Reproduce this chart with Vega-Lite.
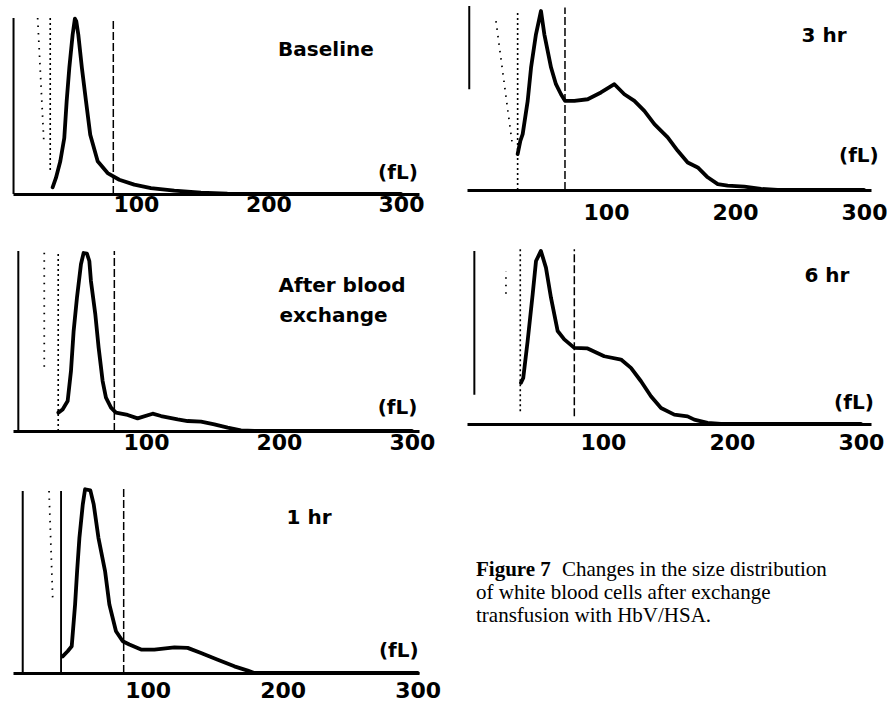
{
  "$schema": "https://vega.github.io/schema/vega-lite/v6.json",
  "background": "white",
  "padding": {"left": 12, "top": 5, "right": 0, "bottom": 0},
  "config": {"view": {"stroke": null}},
  "datasets": {
    "curves": [
      {"p":"b","fL":37.1,"v":3.8},{"p":"b","fL":39.6,"v":9.1},{"p":"b","fL":42.9,"v":18.6},{"p":"b","fL":45.9,"v":31.8},{"p":"b","fL":47.7,"v":52.7},{"p":"b","fL":49.7,"v":71.6},{"p":"b","fL":52.2,"v":90.5},{"p":"b","fL":53.9,"v":99.6},{"p":"b","fL":55,"v":98},{"p":"b","fL":56.5,"v":90.5},{"p":"b","fL":59.2,"v":71.6},{"p":"b","fL":62.3,"v":52.7},{"p":"b","fL":65.5,"v":33.7},{"p":"b","fL":71.1,"v":18.6},{"p":"b","fL":78.6,"v":11.9},{"p":"b","fL":87.4,"v":8.1},{"p":"b","fL":98.7,"v":5.3},{"p":"b","fL":111.3,"v":3.4},{"p":"b","fL":128.9,"v":1.9},{"p":"b","fL":149,"v":0.8},{"p":"b","fL":169,"v":0.2},{"p":"b","fL":200,"v":0},{"p":"b","fL":300,"v":0},
      {"p":"a","fL":34.1,"v":10.3},{"p":"a","fL":37.3,"v":12.1},{"p":"a","fL":41.1,"v":16.8},{"p":"a","fL":43.6,"v":33.6},{"p":"a","fL":45.6,"v":56.1},{"p":"a","fL":48.1,"v":74.8},{"p":"a","fL":51.1,"v":93.5},{"p":"a","fL":53.1,"v":99.8},{"p":"a","fL":55.6,"v":99.4},{"p":"a","fL":57.4,"v":95.3},{"p":"a","fL":58.6,"v":84.1},{"p":"a","fL":61.9,"v":65.4},{"p":"a","fL":64.4,"v":46.7},{"p":"a","fL":67.4,"v":28},{"p":"a","fL":69.9,"v":18.7},{"p":"a","fL":73.7,"v":13.1},{"p":"a","fL":77.4,"v":10.3},{"p":"a","fL":86.2,"v":9},{"p":"a","fL":93.7,"v":7.1},{"p":"a","fL":105,"v":9.7},{"p":"a","fL":111.3,"v":8.4},{"p":"a","fL":123.8,"v":6.5},{"p":"a","fL":131.3,"v":5.6},{"p":"a","fL":141.4,"v":5.2},{"p":"a","fL":151.4,"v":3.7},{"p":"a","fL":161.4,"v":1.9},{"p":"a","fL":171.4,"v":0.4},{"p":"a","fL":181.5,"v":0},{"p":"a","fL":300,"v":0},
      {"p":"h1","fL":37,"v":9},{"p":"h1","fL":40.7,"v":11.8},{"p":"h1","fL":43.7,"v":14.5},{"p":"h1","fL":46.2,"v":37.1},{"p":"h1","fL":47.7,"v":55.2},{"p":"h1","fL":49.4,"v":73.2},{"p":"h1","fL":51.9,"v":91.3},{"p":"h1","fL":53.6,"v":99.5},{"p":"h1","fL":57.5,"v":98.9},{"p":"h1","fL":60,"v":91.3},{"p":"h1","fL":63.5,"v":73.2},{"p":"h1","fL":68.4,"v":55.2},{"p":"h1","fL":71.6,"v":37.1},{"p":"h1","fL":76.5,"v":22.6},{"p":"h1","fL":81.5,"v":17.2},{"p":"h1","fL":86.4,"v":15.4},{"p":"h1","fL":95.1,"v":12.7},{"p":"h1","fL":104.9,"v":12.7},{"p":"h1","fL":119.8,"v":13.9},{"p":"h1","fL":129.6,"v":13.6},{"p":"h1","fL":139.5,"v":10.8},{"p":"h1","fL":151.9,"v":7.2},{"p":"h1","fL":164.2,"v":3.6},{"p":"h1","fL":174.1,"v":1.3},{"p":"h1","fL":179,"v":0},{"p":"h1","fL":300,"v":0},
      {"p":"h3","fL":31.5,"v":20.1},{"p":"h3","fL":33.6,"v":27.5},{"p":"h3","fL":35.4,"v":31.2},{"p":"h3","fL":39.3,"v":49.8},{"p":"h3","fL":41.9,"v":68.4},{"p":"h3","fL":45.7,"v":87},{"p":"h3","fL":49.6,"v":100},{"p":"h3","fL":52.2,"v":87},{"p":"h3","fL":57.4,"v":68.4},{"p":"h3","fL":61.2,"v":59.1},{"p":"h3","fL":65.1,"v":53.5},{"p":"h3","fL":68.2,"v":49.8},{"p":"h3","fL":75.5,"v":49.8},{"p":"h3","fL":85.8,"v":50.7},{"p":"h3","fL":96.1,"v":54.5},{"p":"h3","fL":106.5,"v":59.1},{"p":"h3","fL":114.2,"v":53.5},{"p":"h3","fL":122,"v":49.8},{"p":"h3","fL":129.7,"v":44.2},{"p":"h3","fL":137.5,"v":36.8},{"p":"h3","fL":147.8,"v":29.4},{"p":"h3","fL":155.6,"v":21.9},{"p":"h3","fL":163.3,"v":15.4},{"p":"h3","fL":171.1,"v":12.6},{"p":"h3","fL":178.8,"v":7.1},{"p":"h3","fL":186.6,"v":3.3},{"p":"h3","fL":194.3,"v":2.4},{"p":"h3","fL":207.2,"v":1.9},{"p":"h3","fL":220.2,"v":0.6},{"p":"h3","fL":233.1,"v":0},{"p":"h3","fL":300,"v":0},
      {"p":"h6","fL":36.4,"v":23.7},{"p":"h6","fL":38.2,"v":26.5},{"p":"h6","fL":41.6,"v":47.7},{"p":"h6","fL":45.5,"v":74.6},{"p":"h6","fL":48.1,"v":93.8},{"p":"h6","fL":51.9,"v":99.6},{"p":"h6","fL":55.8,"v":90},{"p":"h6","fL":59.7,"v":72.7},{"p":"h6","fL":64.9,"v":53.5},{"p":"h6","fL":70,"v":48.7},{"p":"h6","fL":77.8,"v":43.8},{"p":"h6","fL":88.1,"v":43.5},{"p":"h6","fL":101,"v":39},{"p":"h6","fL":114,"v":37.1},{"p":"h6","fL":121.7,"v":32.3},{"p":"h6","fL":129.5,"v":24.6},{"p":"h6","fL":137.2,"v":16},{"p":"h6","fL":145,"v":9.2},{"p":"h6","fL":155.3,"v":5.4},{"p":"h6","fL":165.6,"v":4.4},{"p":"h6","fL":170.8,"v":2.5},{"p":"h6","fL":181.1,"v":0.6},{"p":"h6","fL":191.5,"v":0},{"p":"h6","fL":300,"v":0}
    ],
    "marks": [
      {"p":"b","kind":"axis","fL":7.6,"fL2":7.6,"v":0,"v2":100},
      {"p":"b","kind":"dotted","fL":25.8,"fL2":30.6,"v":100,"v2":28},
      {"p":"b","kind":"dashdot","fL":35.3,"fL2":35.3,"v":100,"v2":12},
      {"p":"b","kind":"dashed","fL":82.9,"fL2":82.9,"v":0,"v2":100},
      {"p":"a","kind":"axis","fL":4,"fL2":4,"v":0,"v2":100.9},
      {"p":"a","kind":"dotted","fL":23.5,"fL2":23.5,"v":100,"v2":34},
      {"p":"a","kind":"dashdot","fL":34,"fL2":34,"v":0,"v2":100},
      {"p":"a","kind":"dashed","fL":76.2,"fL2":76.2,"v":0,"v2":100.9},
      {"p":"h1","kind":"axis","fL":7.4,"fL2":7.4,"v":0,"v2":98.6},
      {"p":"h1","kind":"dotted","fL":26.9,"fL2":29.6,"v":98.6,"v2":40.7},
      {"p":"h1","kind":"solid","fL":35.8,"fL2":35.8,"v":0,"v2":98.6},
      {"p":"h1","kind":"dashed","fL":82.2,"fL2":82.2,"v":0,"v2":100},
      {"p":"h3","kind":"axis","fL":-6,"fL2":-6,"v":56.3,"v2":102.8},
      {"p":"h3","kind":"dotted","fL":14.7,"fL2":27.7,"v":94.4,"v2":23.8},
      {"p":"h3","kind":"dashdot","fL":31.5,"fL2":31.5,"v":0,"v2":100},
      {"p":"h3","kind":"dashed","fL":68.2,"fL2":68.2,"v":0,"v2":101.9},
      {"p":"h6","kind":"axis","fL":0.3,"fL2":0.3,"v":16.9,"v2":99.6},
      {"p":"h6","kind":"dotted","fL":24.8,"fL2":24.8,"v":75,"v2":88},
      {"p":"h6","kind":"dashdot","fL":35.9,"fL2":35.9,"v":7.3,"v2":100.6},
      {"p":"h6","kind":"dashed","fL":77.8,"fL2":77.8,"v":4.4,"v2":100.6}
    ],
    "labels": [
      {"p":"b","fL":243.4,"v":81.8,"text":"Baseline"},
      {"p":"b","fL":297.7,"v":12,"text":"(fL)"},
      {"p":"a","fL":247.4,"v":81.3,"text":"After blood"},
      {"p":"a","fL":241,"v":64.5,"text":"exchange"},
      {"p":"a","fL":289.2,"v":13,"text":"(fL)"},
      {"p":"h1","fL":219.5,"v":84.1,"text":"1 hr"},
      {"p":"h1","fL":286,"v":11.8,"text":"(fL)"},
      {"p":"h3","fL":269,"v":86,"text":"3 hr"},
      {"p":"h3","fL":296,"v":19.1,"text":"(fL)"},
      {"p":"h6","fL":273.6,"v":85.2,"text":"6 hr"},
      {"p":"h6","fL":294.6,"v":12.1,"text":"(fL)"}
    ],
    "caption": [
      {"line":1,"part":"head","text":"Figure 7"},
      {"line":1,"part":"body","text":"Changes in the size distribution"},
      {"line":2,"part":"body","text":"of white blood cells after exchange"},
      {"line":3,"part":"body","text":"transfusion with HbV/HSA."}
    ]
  },
  "concat": [
    {
      "width": 406, "height": 188,
      "encoding": {
        "x": {"field":"fL","type":"quantitative","scale":{"domain":[7.2,313.6],"nice":false,"zero":false},
              "axis":{"values":[100,200,300],"title":null,"ticks":false,"grid":false,"domainColor":"black","domainWidth":3,"labelFont":"DejaVu Sans","labelFontWeight":"bold","labelFontSize":22,"labelColor":"black","labelPadding":0,"labelFlush":false,"labelBound":false,"labelOverlap":false}},
        "y": {"field":"v","type":"quantitative","scale":{"domain":[0,106.8],"nice":false},"axis":null}
      },
      "layer": [
        {"data":{"name":"marks"},"transform":[{"filter":"datum.p==='b'"}],"mark":{"type":"rule","color":"black"},
         "encoding":{"x2":{"field":"fL2"},"y2":{"field":"v2"},
           "strokeDash":{"field":"kind","type":"nominal","scale":{"domain":["axis","solid","dotted","dashdot","dashed"],"range":[[1,0],[1,0],[1.5,6],[2,3],[8,3]]},"legend":null},
           "strokeWidth":{"field":"kind","type":"ordinal","scale":{"domain":["axis","solid","dotted","dashdot","dashed"],"range":[2,1.5,1.5,1.5,2]},"legend":null}}},
        {"data":{"name":"curves"},"transform":[{"filter":"datum.p==='b'"}],"mark":{"type":"line","color":"black","strokeWidth":3.8,"strokeJoin":"round","strokeCap":"round"}},
        {"data":{"name":"labels"},"transform":[{"filter":"datum.p==='b'"}],"mark":{"type":"text","font":"DejaVu Sans","fontWeight":"bold","fontSize":20,"color":"black","align":"center","baseline":"middle"},"encoding":{"text":{"field":"text"}}}
      ]
    },
    {
      "width": 404, "height": 184,
      "encoding": {
        "x": {"field":"fL","type":"quantitative","scale":{"domain":[-7.75,305.4],"nice":false,"zero":false},
              "axis":{"values":[100,200,300],"title":null,"ticks":false,"grid":false,"domainColor":"black","domainWidth":3,"labelFont":"DejaVu Sans","labelFontWeight":"bold","labelFontSize":22,"labelColor":"black","labelPadding":12,"labelFlush":false,"labelBound":false,"labelOverlap":false}},
        "y": {"field":"v","type":"quantitative","scale":{"domain":[0,102.8],"nice":false},"axis":null}
      },
      "layer": [
        {"data":{"name":"marks"},"transform":[{"filter":"datum.p==='h3'"}],"mark":{"type":"rule","color":"black"},
         "encoding":{"x2":{"field":"fL2"},"y2":{"field":"v2"},
           "strokeDash":{"field":"kind","type":"nominal","scale":{"domain":["axis","solid","dotted","dashdot","dashed"],"range":[[1,0],[1,0],[1.5,6],[2,3],[8,3]]},"legend":null},
           "strokeWidth":{"field":"kind","type":"ordinal","scale":{"domain":["axis","solid","dotted","dashdot","dashed"],"range":[2,1.5,1.5,1.5,2]},"legend":null}}},
        {"data":{"name":"curves"},"transform":[{"filter":"datum.p==='h3'"}],"mark":{"type":"line","color":"black","strokeWidth":3.8,"strokeJoin":"round","strokeCap":"round"}},
        {"data":{"name":"labels"},"transform":[{"filter":"datum.p==='h3'"}],"mark":{"type":"text","font":"DejaVu Sans","fontWeight":"bold","fontSize":20,"color":"black","align":"center","baseline":"middle"},"encoding":{"text":{"field":"text"}}}
      ]
    },
    {
      "width": 406, "height": 183,
      "encoding": {
        "x": {"field":"fL","type":"quantitative","scale":{"domain":[0,305.3],"nice":false,"zero":false},
              "axis":{"values":[100,200,300],"title":null,"ticks":false,"grid":false,"domainColor":"black","domainWidth":3,"labelFont":"DejaVu Sans","labelFontWeight":"bold","labelFontSize":22,"labelColor":"black","labelPadding":1,"labelFlush":false,"labelBound":false,"labelOverlap":false}},
        "y": {"field":"v","type":"quantitative","scale":{"domain":[0,102.6],"nice":false},"axis":null}
      },
      "layer": [
        {"data":{"name":"marks"},"transform":[{"filter":"datum.p==='a'"}],"mark":{"type":"rule","color":"black"},
         "encoding":{"x2":{"field":"fL2"},"y2":{"field":"v2"},
           "strokeDash":{"field":"kind","type":"nominal","scale":{"domain":["axis","solid","dotted","dashdot","dashed"],"range":[[1,0],[1,0],[1.5,6],[2,3],[8,3]]},"legend":null},
           "strokeWidth":{"field":"kind","type":"ordinal","scale":{"domain":["axis","solid","dotted","dashdot","dashed"],"range":[2,1.5,1.5,1.5,2]},"legend":null}}},
        {"data":{"name":"curves"},"transform":[{"filter":"datum.p==='a'"}],"mark":{"type":"line","color":"black","strokeWidth":3.8,"strokeJoin":"round","strokeCap":"round"}},
        {"data":{"name":"labels"},"transform":[{"filter":"datum.p==='a'"}],"mark":{"type":"text","font":"DejaVu Sans","fontWeight":"bold","fontSize":20,"color":"black","align":"center","baseline":"middle"},"encoding":{"text":{"field":"text"}}}
      ]
    },
    {
      "width": 404, "height": 176,
      "encoding": {
        "x": {"field":"fL","type":"quantitative","scale":{"domain":[-5.4,307.8],"nice":false,"zero":false},
              "axis":{"values":[100,200,300],"title":null,"ticks":false,"grid":false,"domainColor":"black","domainWidth":3,"labelFont":"DejaVu Sans","labelFontWeight":"bold","labelFontSize":22,"labelColor":"black","labelPadding":8,"labelFlush":false,"labelBound":false,"labelOverlap":false}},
        "y": {"field":"v","type":"quantitative","scale":{"domain":[0,101.3],"nice":false},"axis":null}
      },
      "layer": [
        {"data":{"name":"marks"},"transform":[{"filter":"datum.p==='h6'"}],"mark":{"type":"rule","color":"black"},
         "encoding":{"x2":{"field":"fL2"},"y2":{"field":"v2"},
           "strokeDash":{"field":"kind","type":"nominal","scale":{"domain":["axis","solid","dotted","dashdot","dashed"],"range":[[1,0],[1,0],[1.5,6],[2,3],[8,3]]},"legend":null},
           "strokeWidth":{"field":"kind","type":"ordinal","scale":{"domain":["axis","solid","dotted","dashdot","dashed"],"range":[2,1.5,1.5,1.5,2]},"legend":null}}},
        {"data":{"name":"curves"},"transform":[{"filter":"datum.p==='h6'"}],"mark":{"type":"line","color":"black","strokeWidth":3.8,"strokeJoin":"round","strokeCap":"round"}},
        {"data":{"name":"labels"},"transform":[{"filter":"datum.p==='h6'"}],"mark":{"type":"text","font":"DejaVu Sans","fontWeight":"bold","fontSize":20,"color":"black","align":"center","baseline":"middle"},"encoding":{"text":{"field":"text"}}}
      ]
    },
    {
      "width": 406, "height": 188,
      "encoding": {
        "x": {"field":"fL","type":"quantitative","scale":{"domain":[0.2,301],"nice":false,"zero":false},
              "axis":{"values":[100,200,300],"title":null,"ticks":false,"grid":false,"domainColor":"black","domainWidth":3,"labelFont":"DejaVu Sans","labelFontWeight":"bold","labelFontSize":22,"labelColor":"black","labelPadding":7,"labelFlush":false,"labelBound":false,"labelOverlap":false}},
        "y": {"field":"v","type":"quantitative","scale":{"domain":[0,101.8],"nice":false},"axis":null}
      },
      "layer": [
        {"data":{"name":"marks"},"transform":[{"filter":"datum.p==='h1'"}],"mark":{"type":"rule","color":"black"},
         "encoding":{"x2":{"field":"fL2"},"y2":{"field":"v2"},
           "strokeDash":{"field":"kind","type":"nominal","scale":{"domain":["axis","solid","dotted","dashdot","dashed"],"range":[[1,0],[1,0],[1.5,6],[2,3],[8,3]]},"legend":null},
           "strokeWidth":{"field":"kind","type":"ordinal","scale":{"domain":["axis","solid","dotted","dashdot","dashed"],"range":[2,1.5,1.5,1.5,2]},"legend":null}}},
        {"data":{"name":"curves"},"transform":[{"filter":"datum.p==='h1'"}],"mark":{"type":"line","color":"black","strokeWidth":3.8,"strokeJoin":"round","strokeCap":"round"}},
        {"data":{"name":"labels"},"transform":[{"filter":"datum.p==='h1'"}],"mark":{"type":"text","font":"DejaVu Sans","fontWeight":"bold","fontSize":20,"color":"black","align":"center","baseline":"middle"},"encoding":{"text":{"field":"text"}}}
      ]
    },
    {
      "width": 404, "height": 160,
      "data": {"name": "caption"},
      "encoding": {
        "x": {"datum": 0, "type":"quantitative","scale":{"domain":[0,1],"nice":false},"axis":null},
        "y": {"field":"line","type":"quantitative","scale":{"domain":[-2.957,4.0],"nice":false,"zero":false,"reverse":true},"axis":null},
        "text": {"field":"text"}
      },
      "layer": [
        {"transform":[{"filter":"datum.part==='head'"}],"mark":{"type":"text","font":"Liberation Serif","fontWeight":"bold","fontSize":21,"color":"black","align":"left","baseline":"alphabetic","dx":9}},
        {"transform":[{"filter":"datum.part==='body' && datum.line===1"}],"mark":{"type":"text","font":"Liberation Serif","fontSize":21,"color":"black","align":"left","baseline":"alphabetic","dx":95}},
        {"transform":[{"filter":"datum.line>1"}],"mark":{"type":"text","font":"Liberation Serif","fontSize":21,"color":"black","align":"left","baseline":"alphabetic","dx":9}}
      ]
    }
  ],
  "columns": 2,
  "align": "each",
  "bounds": "flush",
  "spacing": {"row": 54, "column": 48}
}
